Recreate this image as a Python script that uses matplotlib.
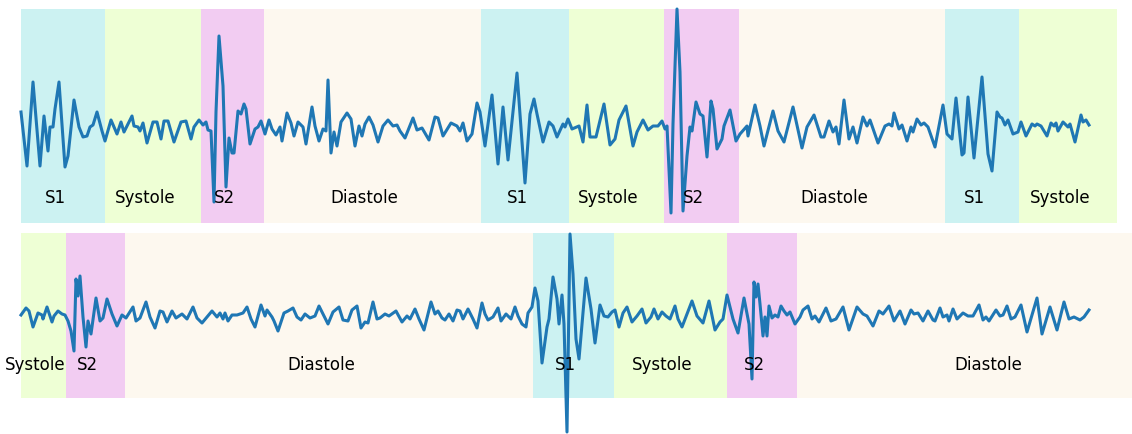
import numpy as np
import matplotlib
matplotlib.use("Agg")
import matplotlib.pyplot as plt

# heart sound segmentation, two rows (time in samples, amplitude arbitrary)
top_t = [21, 27, 33, 40, 44, 48, 50, 53, 55, 59, 65, 68, 74, 79, 83, 87, 90, 93, 97, 102,
         105, 111, 117, 121, 124, 132, 134, 138, 140, 143, 147, 153, 157, 161, 164, 168, 174, 181, 186, 191,
         194, 199, 203, 206, 208, 211, 214, 216, 219, 223, 226, 229, 232, 234, 238, 241, 244, 246, 250, 255,
         258, 261, 265, 269, 272, 276, 280, 282, 287, 291, 294, 298, 303, 306, 312, 315, 319, 323, 326, 328,
         331, 334, 337, 341, 347, 351, 355, 359, 362, 365, 369, 373, 378, 383, 388, 393, 397, 400, 405, 413,
         417, 422, 429, 435, 438, 443, 451, 457, 460, 463, 467, 472, 477, 480, 485, 492, 498, 503, 508, 517,
         525, 530, 534, 537, 543, 549, 553, 557, 563, 565, 568, 572, 579, 583, 587, 590, 596, 604, 610, 615,
         619, 626, 633, 637, 643, 648, 653, 658, 662, 665, 667, 671, 673, 677, 680, 683, 687, 690, 692, 696,
         700, 703, 707, 711, 713, 717, 722, 724, 730, 736, 740, 747, 748, 755, 760, 764, 773, 778, 784, 793,
         802, 807, 814, 821, 824, 829, 833, 836, 839, 844, 849, 853, 857, 863, 867, 870, 878, 885, 889, 892,
         894, 899, 902, 907, 911, 913, 917, 921, 924, 928, 935, 943, 947, 952, 956, 962, 964, 968, 974, 982,
         988, 992, 997, 1000, 1002, 1005, 1008, 1013, 1018, 1021, 1026, 1032, 1035, 1037, 1041, 1047, 1051, 1054, 1056, 1058,
         1063, 1068, 1070, 1075, 1081, 1083, 1086, 1089]
top_amp = [14, -40, 44, -40, 10, -25, -1, -1, 17, 44, -41, -30, 26, -1, -11, -10, -1, 1, 14, -5,
           -15, 6, -8, 4, -6, 10, 0, -1, -5, 3, -17, 4, 4, -13, 5, 5, -16, 4, 5, -13,
           -1, 6, 1, 4, -4, -5, -76, 14, 90, 40, -61, -12, -27, -27, 15, 12, 22, 17, -18, -3,
           -1, 5, -8, 6, -3, -9, -1, -15, 13, 3, -10, 4, -1, -18, 19, 0, -15, -3, -5, 46,
           -27, -6, -20, 4, 13, 7, -20, 0, -10, 2, 9, 1, -16, 0, 6, 0, 1, -5, -12, 8,
           -4, -2, -14, 9, 8, -10, 3, 0, -5, 3, -15, -8, 23, 14, -20, 31, -38, 19, -34, 53,
           -57, 12, 27, 12, -16, 4, 0, -11, 2, -1, 7, -3, 0, -16, 21, -11, -11, 22, -19, -13,
           6, 20, -20, -6, 6, -4, 0, 0, 5, -3, 0, -87, 2, 117, 54, -85, -30, -1, -5, 24,
           12, 10, -31, 25, 17, -23, -13, 0, 16, -15, -8, 0, -10, 21, 0, -20, 15, -5, -16, 19,
           -22, -1, 11, -11, -11, 5, -6, -1, -18, 26, -13, -1, -17, 9, 0, 6, -17, 0, 2, 0,
           13, -3, 1, -15, -1, -6, 7, 1, 3, -1, -21, 21, -8, -13, 28, -29, -27, 29, -32, 49,
           -28, -45, 14, 9, 8, 1, 6, -8, -6, 4, -10, 2, 0, 2, 0, -10, 3, 0, 3, -5,
           4, -1, 2, -16, 11, 4, 6, 1]

bot_t = [21, 26, 29, 33, 38, 42, 43, 47, 52, 54, 58, 62, 65, 68, 71, 74, 76, 78, 80, 83,
         86, 88, 91, 96, 100, 103, 107, 112, 117, 122, 126, 133, 136, 140, 146, 150, 155, 160, 163, 167,
         172, 176, 182, 187, 193, 197, 202, 207, 212, 217, 220, 223, 225, 228, 232, 237, 243, 247, 251, 255,
         261, 265, 267, 272, 274, 278, 284, 288, 293, 297, 301, 305, 310, 315, 319, 323, 328, 333, 339, 343,
         348, 352, 357, 361, 365, 368, 373, 377, 380, 385, 389, 396, 402, 407, 410, 415, 419, 424, 431, 435,
         438, 442, 445, 449, 453, 457, 460, 463, 468, 473, 477, 482, 485, 488, 493, 498, 501, 506, 511, 515,
         518, 522, 526, 528, 532, 535, 538, 542, 547, 549, 553, 557, 559, 562, 564, 567, 570, 573, 576, 579,
         586, 591, 595, 600, 604, 608, 612, 615, 619, 623, 627, 632, 637, 642, 646, 651, 654, 658, 662, 666,
         670, 675, 678, 682, 687, 692, 697, 703, 709, 715, 720, 723, 727, 733, 738, 744, 749, 752, 754, 756,
         758, 760, 763, 765, 767, 769, 772, 775, 778, 781, 784, 787, 790, 795, 800, 803, 808, 812, 815, 819,
         826, 831, 836, 843, 849, 857, 863, 867, 873, 879, 883, 889, 894, 900, 905, 911, 914, 918, 923, 928,
         933, 935, 940, 943, 947, 949, 953, 957, 963, 968, 973, 979, 983, 986, 989, 996, 1000, 1003, 1007, 1011,
         1015, 1021, 1027, 1037, 1042, 1050, 1057, 1064, 1069, 1074, 1080, 1084, 1089]
bot_amp = [0, 7, 4, -12, 2, 0, -4, 8, -7, -1, 4, 1, 0, -6, -16, -36, 36, 19, 39, -2,
           -32, -6, -19, 17, -6, -3, 16, 1, -11, 0, -3, 8, -6, -3, 13, -2, -13, 4, 3, -7,
           4, -3, 1, -4, 8, -3, -8, -2, 4, -2, 2, -4, 2, -6, 0, 0, 2, 8, -4, -12,
           10, -1, 5, -2, -6, -16, 2, 4, 7, -2, -5, 1, -3, -1, 9, 1, -9, 3, 8, -5,
           -6, 5, 9, -13, -7, -8, 13, -4, -3, 1, -1, 4, -7, -1, -4, 6, -4, -15, 13, 1,
           4, -3, -5, 1, -6, 5, 4, -4, 6, -4, -13, 12, 1, -5, -2, 7, -6, 1, -4, 8,
           -1, -9, -12, 2, 8, 27, 14, -48, -12, -4, 38, 16, -9, 20, -9, -117, 81, 41, -24, -44,
           37, 6, -28, 10, -1, -2, 3, 5, -12, 2, 8, -7, -1, 6, -8, -2, 6, -4, 3, -1,
           -4, 9, -4, -12, 1, 14, -1, -8, 14, -15, -7, -4, 20, -4, -18, 17, -9, -64, 33, 18,
           31, 11, -21, -2, -21, 9, -3, 0, -2, 9, 4, 0, 3, -9, -2, 5, 9, -4, -1, -7,
           7, -6, -4, 8, -15, 8, 1, -1, -11, 4, 1, 9, -6, 4, -9, 5, 1, 2, -6, 4,
           -5, -6, 7, -2, 0, -6, 6, -4, 2, -1, -1, 10, -5, -2, -6, 5, -1, 0, 9, -4,
           -2, 10, -17, 17, -19, 8, -15, 13, -4, -2, -5, -2, 5]

top_bounds = [21, 105, 201, 264, 481, 569, 664, 739, 945, 1019, 1117]
top_states = ["S1", "Systole", "S2", "Diastole", "S1", "Systole", "S2", "Diastole", "S1", "Systole"]
bot_bounds = [21, 66, 125, 533, 614, 727, 797, 1195]
bot_states = ["Systole", "S2", "Diastole", "S1", "Systole", "S2", "Diastole"]

state_colors = {"S1": "c", "Systole": "greenyellow", "S2": "m", "Diastole": "wheat"}

fig = plt.figure(figsize=(11.32, 4.35), dpi=100)
ax1 = fig.add_axes([21 / 1132, 211 / 435, 1111 / 1132, 214 / 435])
ax2 = fig.add_axes([21 / 1132, 36 / 435, 1111 / 1132, 165 / 435])

rows = [(ax1, top_t, top_amp, top_bounds, top_states, (-97, 117), 0.12),
        (ax2, bot_t, bot_amp, bot_bounds, bot_states, (-83, 82), 0.205)]

for ax, t, amp, bounds, states, ylim, label_y in rows:
    for i, st in enumerate(states):
        a, b = bounds[i], bounds[i + 1]
        ax.axvspan(a, b, color=state_colors[st], alpha=0.2, lw=0)
        ax.text((a + b) / 2 - 8, label_y, st, ha="center", va="center", fontsize=12,
                transform=ax.get_xaxis_transform())
    ax.plot(t, amp, color="#1f77b4", lw=2.2, clip_on=False)
    ax.set_xlim(21, 1132)
    ax.set_ylim(*ylim)
    ax.axis("off")

fig.savefig("out.png", dpi=100)
